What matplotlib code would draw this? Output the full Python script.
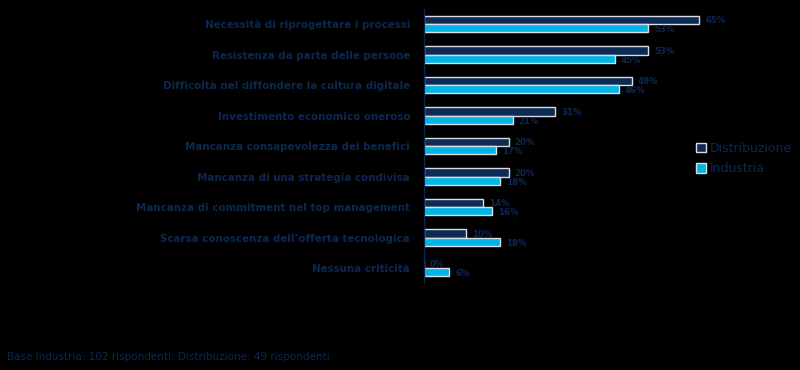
import matplotlib
matplotlib.use("Agg")
import matplotlib.pyplot as plt
import numpy as np

categories = [
    "Necessità di riprogettare i processi",
    "Resistenza da parte delle persone",
    "Difficoltà nel diffondere la cultura digitale",
    "Investimento economico oneroso",
    "Mancanza consapevolezza dei benefici",
    "Mancanza di una strategia condivisa",
    "Mancanza di commitment nel top management",
    "Scarsa conoscenza dell’offerta tecnologica",
    "Nessuna criticità",
]
distribuzione = [65, 53, 49, 31, 20, 20, 14, 10, 0]
industria = [53, 45, 46, 21, 17, 18, 16, 18, 6]
series_names = ["Distribuzione", "Industria"]
footer = "Base Industria: 102 rispondenti; Distribuzione: 49 rispondenti."

navy = "#0d2b55"
cyan = "#00b4e6"
txt = "#0c2850"
edge = "#d8dde6"

fig = plt.figure(figsize=(8, 3.7), dpi=100, facecolor="black")
ax = fig.add_axes([0.53, 0.234, 0.45, 0.742], facecolor="black")

y = np.arange(len(categories))
h = 0.27
ax.barh(y - h / 2, distribuzione, height=h, color=navy, edgecolor=edge, linewidth=1.0, label=series_names[0])
ax.barh(y + h / 2, industria, height=h, color=cyan, edgecolor=edge, linewidth=1.0, label=series_names[1])

for yi, v in zip(y, distribuzione):
    ax.text(v + 1.4, yi - h / 2 + 0.02, f"{v}%", va="center", ha="left", fontsize=6.2,
            fontweight="bold", color=txt)
for yi, v in zip(y, industria):
    ax.text(v + 1.4, yi + h / 2 + 0.05, f"{v}%", va="center", ha="left", fontsize=6.2,
            fontweight="bold", color=txt)

ax.set_xlim(0, 85)
ax.set_ylim(len(categories) - 0.5, -0.5)
ax.set_yticks(y)
ax.set_yticklabels(categories, fontsize=7.4, fontweight="bold", color=txt)
ax.tick_params(axis="y", length=0, pad=10)
ax.set_xticks([])
for s in ["top", "right", "bottom"]:
    ax.spines[s].set_visible(False)
ax.spines["left"].set_color(txt)
ax.spines["left"].set_linewidth(1.0)

leg = fig.legend(loc="upper left", bbox_to_anchor=(0.864, 0.63), frameon=False,
                 fontsize=9, handlelength=0.8, handleheight=0.8, handletextpad=0.3,
                 labelspacing=0.6, borderaxespad=0)
for t in leg.get_texts():
    t.set_color(txt)

fig.text(0.009, 0.021, footer, fontsize=7.5, color=txt, ha="left", va="bottom")

fig.savefig("out.png", dpi=100, facecolor="black")
